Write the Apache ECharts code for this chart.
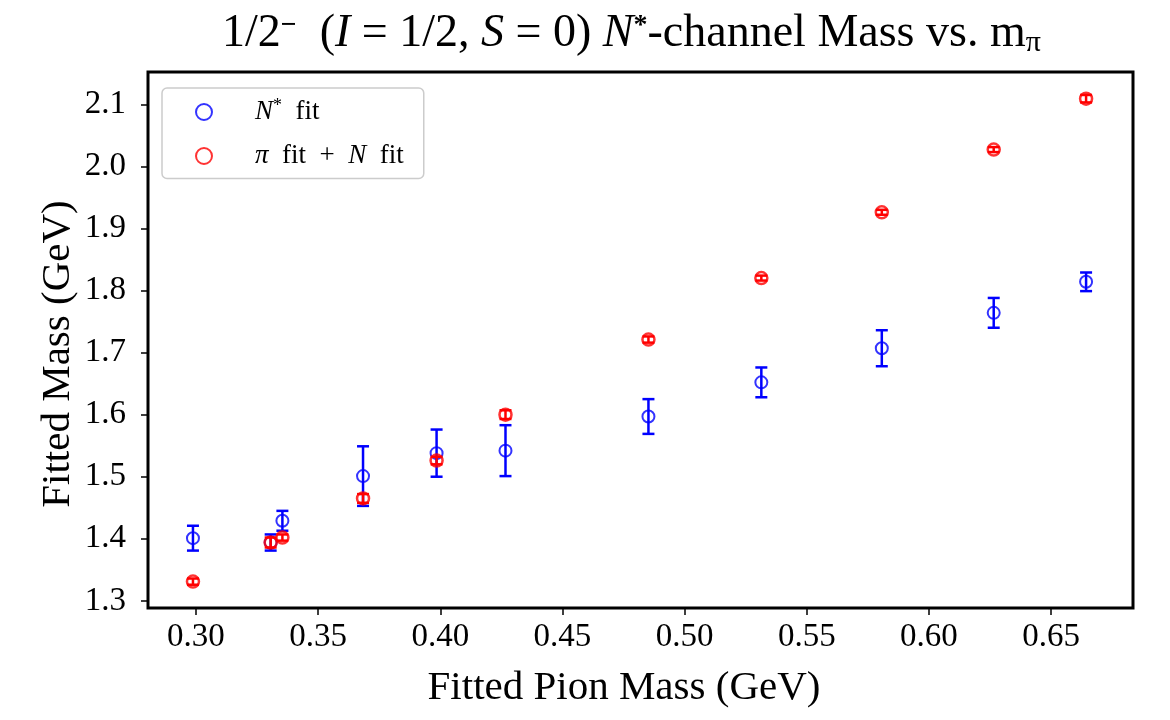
<!DOCTYPE html>
<html>
<head>
<meta charset="utf-8">
<script src="https://cdn.jsdelivr.net/npm/echarts@6/dist/echarts.min.js"></script>
<style>
  html, body { margin: 0; padding: 0; background: #fff; }
  #chart { width: 1170px; height: 720px; }
</style>
</head>
<body>
<div id="chart"></div>
<script>
// fitted pion mass (GeV)
const pionMass = [0.2988, 0.3306, 0.3354, 0.3684, 0.3985, 0.4267, 0.4852, 0.5314, 0.5807, 0.6265, 0.6643]

// N* fit
const nstarMass = [1.401, 1.394, 1.429, 1.501, 1.538, 1.542, 1.597, 1.652, 1.707, 1.764, 1.814]
const nstarErr = [0.020, 0.013, 0.016, 0.048, 0.038, 0.041, 0.028, 0.024, 0.029, 0.024, 0.015]

// pi fit + N fit
const sumMass = [1.331, 1.394, 1.402, 1.465, 1.526, 1.600, 1.721, 1.820, 1.926, 2.027, 2.109]
const sumErr = [0.005, 0.008, 0.005, 0.007, 0.006, 0.007, 0.005, 0.004, 0.004, 0.004, 0.006]

const xTicks = [0.30, 0.35, 0.40, 0.45, 0.50, 0.55, 0.60, 0.65]
const yTicks = [1.3, 1.4, 1.5, 1.6, 1.7, 1.8, 1.9, 2.0, 2.1]

const serif = '"Liberation Serif", "DejaVu Serif", serif'

const chart = echarts.init(document.getElementById('chart'))

const errorBars = (color) => (params, api) => {
  const x = api.value(0)
  const y = api.value(1)
  const e = api.value(2)
  const top = api.coord([x, y + e])
  const bot = api.coord([x, y - e])
  const half = 6
  const style = { stroke: color, lineWidth: 2.5 }
  return {
    type: 'group',
    children: [
      { type: 'line', shape: { x1: top[0], y1: top[1], x2: bot[0], y2: bot[1] }, style },
      { type: 'line', shape: { x1: top[0] - half, y1: top[1], x2: top[0] + half, y2: top[1] }, style },
      { type: 'line', shape: { x1: bot[0] - half, y1: bot[1], x2: bot[0] + half, y2: bot[1] }, style }
    ]
  }
}

const option = {
  backgroundColor: '#fff',
  animation: false,

  title: {
    left: 222,
    top: 10,
    padding: 0,
    text: '1/2{sup|−}  ({it|I} = 1/2, {it|S} = 0) {it|N}{sup|*}-channel Mass vs. m{sub|π}',
    textStyle: {
      fontFamily: serif,
      fontSize: 46,
      fontWeight: 'normal',
      color: '#000',
      rich: {
        it: { fontFamily: serif, fontSize: 46, fontStyle: 'italic', color: '#000' },
        sup: { fontFamily: serif, fontSize: 28, fontWeight: 'bold', color: '#000', padding: [0, 0, 16, 0] },
        sub: { fontFamily: serif, fontSize: 30, color: '#000', padding: [18, 0, 0, 0] }
      }
    }
  },

  legend: {
    orient: 'vertical',
    left: 162,
    top: 88,
    padding: [9, 20, 9, 33],
    itemWidth: 38,
    itemHeight: 16,
    itemGap: 17,
    borderColor: '#cccccc',
    borderWidth: 1.5,
    borderRadius: 5,
    data: [
      { name: 'N* fit', icon: 'circle', itemStyle: { color: 'transparent', borderColor: '#0000ff', borderWidth: 2 } },
      { name: 'π fit + N fit', icon: 'circle', itemStyle: { color: 'transparent', borderColor: '#ff0000', borderWidth: 2 } }
    ],
    formatter: (name) =>
      name === 'N* fit' ? '{it|N}{sup|*}  fit' : '{it|π}  fit  +  {it|N}  fit',
    textStyle: {
      fontFamily: serif,
      fontSize: 27,
      color: '#000',
      padding: [0, 0, 0, 27],
      rich: {
        it: { fontFamily: serif, fontSize: 27, fontStyle: 'italic', color: '#000' },
        sup: { fontFamily: serif, fontSize: 18, color: '#000', padding: [0, 0, 12, 0] }
      }
    }
  },

  grid: {
    left: 148,
    right: 37,
    top: 72,
    bottom: 112,
    show: true,
    borderColor: '#000',
    borderWidth: 3,
    backgroundColor: 'transparent'
  },

  xAxis: {
    type: 'value',
    min: 0.2804,
    max: 0.6835,
    axisLine: { show: false },
    splitLine: { show: false },
    axisTick: {
      show: true,
      inside: false,
      length: 7,
      customValues: xTicks,
      lineStyle: { color: '#000', width: 1.5 }
    },
    axisLabel: {
      customValues: xTicks,
      margin: 13,
      formatter: (v) => v.toFixed(2),
      fontFamily: serif,
      fontSize: 33,
      color: '#000'
    }
  },

  yAxis: {
    type: 'value',
    min: 1.2885,
    max: 2.152,
    axisLine: { show: false },
    splitLine: { show: false },
    axisTick: {
      show: true,
      inside: false,
      length: 7,
      customValues: yTicks,
      lineStyle: { color: '#000', width: 1.5 }
    },
    axisLabel: {
      customValues: yTicks,
      margin: 22,
      formatter: (v) => v.toFixed(1),
      fontFamily: serif,
      fontSize: 33,
      color: '#000'
    }
  },

  graphic: [
    {
      type: 'text',
      x: 624,
      y: 688,
      style: {
        text: 'Fitted Pion Mass (GeV)',
        fontFamily: serif,
        fontSize: 41,
        fill: '#000',
        textAlign: 'center',
        textVerticalAlign: 'middle'
      }
    },
    {
      type: 'text',
      x: 58,
      y: 354,
      rotation: Math.PI / 2,
      style: {
        text: 'Fitted Mass (GeV)',
        fontFamily: serif,
        fontSize: 41,
        fill: '#000',
        textAlign: 'center',
        textVerticalAlign: 'middle'
      }
    }
  ],

  series: [
    {
      name: 'N* err',
      type: 'custom',
      renderItem: errorBars('#0000ff'),
      encode: { x: 0, y: 1 },
      data: pionMass.map((x, i) => [x, nstarMass[i], nstarErr[i]]),
      z: 2
    },
    {
      name: 'N* fit',
      type: 'scatter',
      symbol: 'circle',
      symbolSize: 12,
      itemStyle: { color: 'transparent', borderColor: '#0000ff', borderWidth: 2 },
      data: pionMass.map((x, i) => [x, nstarMass[i]]),
      z: 3
    },
    {
      name: 'π fit + N err',
      type: 'custom',
      renderItem: errorBars('#ff0000'),
      encode: { x: 0, y: 1 },
      data: pionMass.map((x, i) => [x, sumMass[i], sumErr[i]]),
      z: 4
    },
    {
      name: 'π fit + N fit',
      type: 'scatter',
      symbol: 'circle',
      symbolSize: 12,
      itemStyle: { color: 'transparent', borderColor: '#ff0000', borderWidth: 2.5 },
      data: pionMass.map((x, i) => [x, sumMass[i]]),
      z: 5
    }
  ]
}

chart.setOption(option)

window.addEventListener('resize', () => chart.resize())
</script>
</body>
</html>
